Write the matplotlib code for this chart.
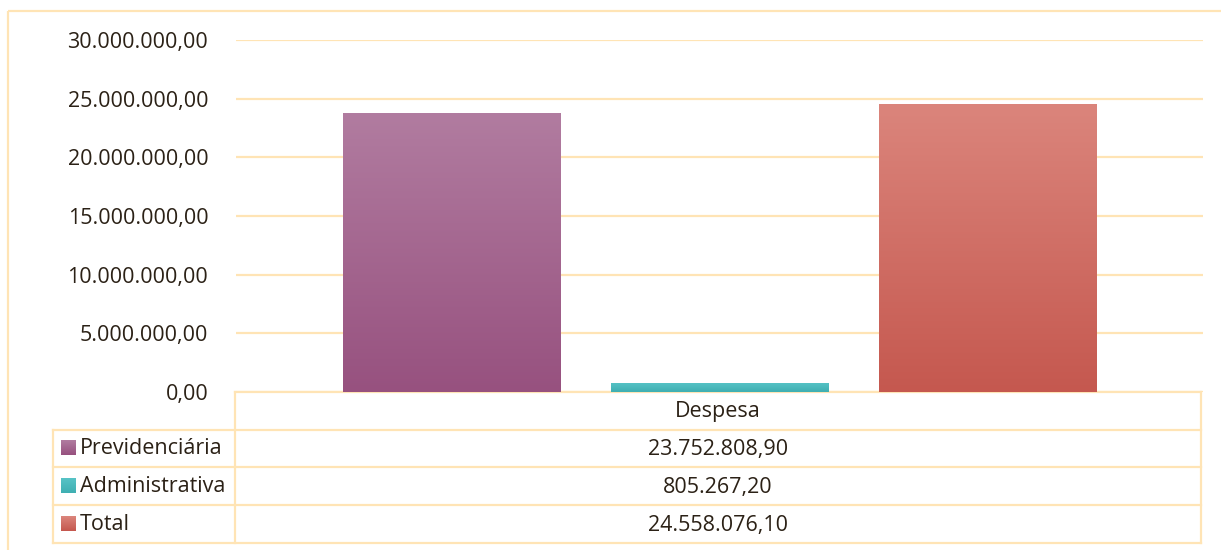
import numpy as np
import matplotlib.pyplot as plt
from matplotlib.patches import Rectangle
import matplotlib.colors as mcolors

plt.rcParams['font.family'] = ['Open Sans', 'DejaVu Sans']

series = ['Previdenciária', 'Administrativa', 'Total']
values = [23752808.90, 805267.20, 24558076.10]
category = 'Despesa'
colors_top = ['#B17CA0', '#57C3C6', '#DB857C']
colors_bottom = ['#97517F', '#3FAFB2', '#C5584F']
yticks = [0, 5e6, 10e6, 15e6, 20e6, 25e6, 30e6]

text_color = '#2B2116'
line_color = '#FFE4B5'
fs = 15.5


def br(v):
    s = f'{v:,.2f}'
    return s.replace(',', 'X').replace('.', ',').replace('X', '.')


W, H = 1221, 550
fig = plt.figure(figsize=(W / 100, H / 100), dpi=100)

# pixel overlay for border and data table
ov = fig.add_axes([0, 0, 1, 1], zorder=0)
ov.set_xlim(0, W)
ov.set_ylim(H, 0)
ov.axis('off')

x0, x1 = 236, 1203
y_top, y_base = 40, 392
ax = fig.add_axes([x0 / W, 1 - y_base / H, (x1 - x0) / W, (y_base - y_top) / H], zorder=1)
ax.patch.set_alpha(0)

pos = np.arange(len(series))
bw = 0.81
bars = ax.bar(pos, values, width=bw, color=colors_bottom, zorder=2)
for b, ct, cb in zip(bars, colors_top, colors_bottom):
    cmap = mcolors.LinearSegmentedColormap.from_list('g', [cb, ct])
    grad = np.linspace(0, 1, 256).reshape(-1, 1)
    im = ax.imshow(grad, cmap=cmap, origin='lower', aspect='auto', zorder=3,
                   extent=[b.get_x(), b.get_x() + b.get_width(), 0, b.get_height()])
    im.set_clip_path(b)

ax.set_xlim(-0.804, 2.804)
ax.set_ylim(0, 30e6)
ax.set_yticks(yticks)
ax.set_yticklabels([br(t) for t in yticks])
ax.set_xticks([])
ax.tick_params(axis='y', length=0, pad=20, labelsize=fs, labelcolor=text_color)
for s in ax.spines.values():
    s.set_visible(False)
ax.grid(axis='y', color=line_color, linewidth=1.6, zorder=1)
ax.set_axisbelow(True)

# outer border
ov.add_patch(Rectangle((7.5, 10.5), 1240, 560, fill=False, edgecolor=line_color, linewidth=1.6))

# data table
lw = 1.6
c0, c1, c2 = 53, 235, 1201
rows = [392, 430, 467, 505, 543]
ov.plot([c1, c2], [rows[0], rows[0]], color=line_color, lw=lw)
for r in rows[1:]:
    ov.plot([c0, c2], [r, r], color=line_color, lw=lw)
ov.plot([c1, c1], [rows[0], rows[-1]], color=line_color, lw=lw)
ov.plot([c2, c2], [rows[0], rows[-1]], color=line_color, lw=lw)
ov.plot([c0, c0], [rows[1], rows[-1]], color=line_color, lw=lw)

mid = (c1 + c2) / 2
ov.text(mid, (rows[0] + rows[1]) / 2 + 1, category, ha='center', va='center',
        fontsize=fs, color=text_color)
for i, (name, v) in enumerate(zip(series, values)):
    yc = (rows[i + 1] + rows[i + 2]) / 2
    cmap = mcolors.LinearSegmentedColormap.from_list('g', [colors_top[i], colors_bottom[i]])
    ov.imshow(np.linspace(0, 1, 32).reshape(-1, 1), cmap=cmap, aspect='auto',
              extent=[61, 76, yc + 7, yc - 8], zorder=2)
    ov.text(80, yc, name, ha='left', va='center', fontsize=fs, color=text_color)
    ov.text(mid, yc + 1, br(v), ha='center', va='center', fontsize=fs, color=text_color)
ov.set_xlim(0, W)
ov.set_ylim(H, 0)

fig.savefig('out.png', dpi=100)
